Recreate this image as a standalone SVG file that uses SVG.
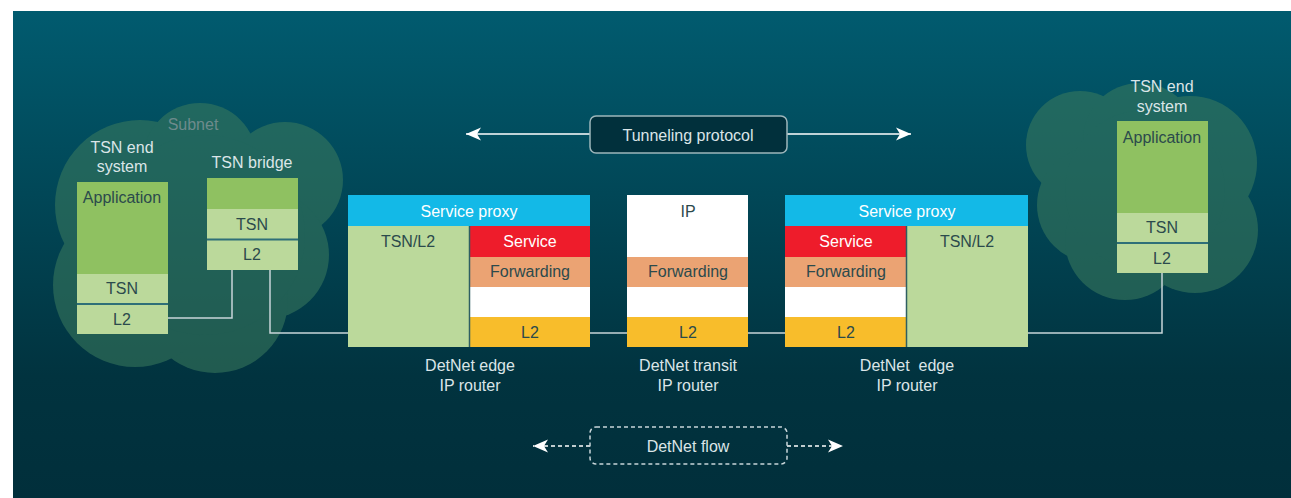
<svg xmlns="http://www.w3.org/2000/svg" width="1291" height="498" viewBox="0 0 1291 498">
<defs>
<linearGradient id="bg" x1="0" y1="0" x2="0" y2="1">
<stop offset="0" stop-color="#015b6f"/>
<stop offset="0.75" stop-color="#01333f"/>
<stop offset="1" stop-color="#012f3b"/>
</linearGradient>
<marker id="ah" viewBox="-16 -7 17 14" refX="0" refY="0" markerWidth="17" markerHeight="14" markerUnits="userSpaceOnUse" orient="auto">
<path d="M0,0 L-15,-6.5 L-11,0 L-15,6.5 Z" fill="#ffffff"/>
</marker>
<style>
text{font-family:"Liberation Sans",Arial,sans-serif;font-size:16px;text-anchor:middle}
.lt{fill:#dbe5e8}
.dk{fill:#2b4a4c}
.wt{fill:#ffffff}
.app{fill:#8fc161}
.lg{fill:#bbd99b}
.blue{fill:#13b9e7}
.red{fill:#ee1c2b}
.fwd{fill:#eba373}
.yel{fill:#f8bd2b}
.wh{fill:#ffffff}
.div{stroke:#2e6f78;stroke-width:2}
.vdiv{stroke:#2e5f62;stroke-width:1.5}
.cloud{fill:#3c7c5e;opacity:0.55}
.conn{stroke:#c8d5d9;stroke-width:1.5;fill:none}
</style>
</defs>
<rect x="0" y="0" width="1291" height="498" fill="#ffffff"/>
<rect x="13" y="11" width="1278" height="487" fill="url(#bg)"/>

<g id="cloud-left">
<g class="cloud">
<circle cx="140" cy="205" r="85"/>
<circle cx="200" cy="160" r="57"/>
<circle cx="285" cy="180" r="58"/>
<circle cx="265" cy="255" r="64"/>
<circle cx="215" cy="300" r="73"/>
<circle cx="135" cy="285" r="82"/>
<circle cx="205" cy="235" r="100"/>
</g>
<text x="193" y="130" fill="#6e8b8c" font-size="15">Subnet</text>
</g>
<g id="cloud-right" class="cloud">
<circle cx="1080" cy="145" r="54"/>
<circle cx="1095" cy="205" r="58"/>
<circle cx="1125" cy="240" r="60"/>
<circle cx="1195" cy="230" r="63"/>
<circle cx="1190" cy="163" r="67"/>
<circle cx="1140" cy="140" r="57"/>
<circle cx="1145" cy="190" r="80"/>
</g>

<g id="connectors">
<polyline class="conn" points="168,318 232,318 232,270"/>
<polyline class="conn" points="270,270 270,333 348,333"/>
<line class="conn" x1="590" y1="333" x2="627" y2="333"/>
<line class="conn" x1="748" y1="333" x2="786" y2="333"/>
<polyline class="conn" points="1028,333 1162,333 1162,273"/>
<line x1="590" y1="134" x2="466" y2="134" stroke="#ffffff" stroke-width="1.5" marker-end="url(#ah)"/>
<line x1="787" y1="134" x2="911" y2="134" stroke="#ffffff" stroke-width="1.5" marker-end="url(#ah)"/>
<line x1="590" y1="446" x2="533" y2="446" stroke="#ffffff" stroke-width="1.5" stroke-dasharray="4 3" marker-end="url(#ah)"/>
<line x1="787" y1="446" x2="843" y2="446" stroke="#ffffff" stroke-width="1.5" stroke-dasharray="4 3" marker-end="url(#ah)"/>
</g>

<g id="tsn-end-left">
<text class="lt" x="122" y="153">TSN end</text>
<text class="lt" x="122" y="172">system</text>
<rect class="app" x="77" y="182" width="91" height="92"/>
<rect class="lg" x="77" y="274" width="91" height="60"/>
<line class="div" x1="77" y1="304" x2="168" y2="304"/>
<text class="dk" x="122" y="203">Application</text>
<text class="dk" x="122" y="294">TSN</text>
<text class="dk" x="122" y="325">L2</text>
</g>

<g id="tsn-bridge">
<text class="lt" x="252" y="168">TSN bridge</text>
<rect class="app" x="207" y="178" width="91" height="31"/>
<rect class="lg" x="207" y="209" width="91" height="61"/>
<line class="div" x1="207" y1="239.5" x2="298" y2="239.5"/>
<text class="dk" x="252" y="230">TSN</text>
<text class="dk" x="252" y="260">L2</text>
</g>

<g id="edge-left">
<rect class="blue" x="348" y="195" width="242" height="31"/>
<rect class="lg" x="348" y="226" width="121" height="121"/>
<rect class="red" x="470" y="226" width="120" height="31"/>
<rect class="fwd" x="470" y="257" width="120" height="30"/>
<rect class="wh" x="470" y="287" width="120" height="30"/>
<rect class="yel" x="470" y="317" width="120" height="30"/>
<line class="vdiv" x1="469.5" y1="226" x2="469.5" y2="347"/>
<text class="wt" x="469" y="217">Service proxy</text>
<text class="dk" x="408" y="247">TSN/L2</text>
<text class="wt" x="530" y="247">Service</text>
<text class="dk" x="530" y="277">Forwarding</text>
<text class="dk" x="530" y="338">L2</text>
<text class="lt" x="470" y="371">DetNet edge</text>
<text class="lt" x="470" y="391">IP router</text>
</g>

<g id="transit">
<rect class="wh" x="627" y="195" width="121" height="62"/>
<rect class="fwd" x="627" y="257" width="121" height="30"/>
<rect class="wh" x="627" y="287" width="121" height="30"/>
<rect class="yel" x="627" y="317" width="121" height="30"/>
<text class="dk" x="688" y="217">IP</text>
<text class="dk" x="688" y="277">Forwarding</text>
<text class="dk" x="688" y="338">L2</text>
<text class="lt" x="688" y="371">DetNet transit</text>
<text class="lt" x="688" y="391">IP router</text>
</g>

<g id="edge-right">
<rect class="blue" x="785" y="195" width="243" height="31"/>
<rect class="red" x="785" y="226" width="121" height="31"/>
<rect class="fwd" x="785" y="257" width="121" height="30"/>
<rect class="wh" x="785" y="287" width="121" height="30"/>
<rect class="yel" x="785" y="317" width="121" height="30"/>
<rect class="lg" x="907" y="226" width="121" height="121"/>
<line class="vdiv" x1="906.5" y1="226" x2="906.5" y2="347"/>
<text class="wt" x="907" y="217">Service proxy</text>
<text class="wt" x="846" y="247">Service</text>
<text class="dk" x="846" y="277">Forwarding</text>
<text class="dk" x="846" y="338">L2</text>
<text class="dk" x="967" y="247">TSN/L2</text>
<text class="lt" x="907" y="371" xml:space="preserve">DetNet  edge</text>
<text class="lt" x="907" y="391">IP router</text>
</g>

<g id="tsn-end-right">
<text class="lt" x="1162" y="92">TSN end</text>
<text class="lt" x="1162" y="112">system</text>
<rect class="app" x="1117" y="121" width="91" height="92"/>
<rect class="lg" x="1117" y="213" width="91" height="60"/>
<line class="div" x1="1117" y1="243" x2="1208" y2="243"/>
<text class="dk" x="1162" y="143">Application</text>
<text class="dk" x="1162" y="233">TSN</text>
<text class="dk" x="1162" y="264">L2</text>
</g>

<g id="tunneling">
<rect x="590" y="116" width="197" height="37" rx="6" fill="#01303c" stroke="#9db6bb" stroke-width="1.5"/>
<text class="lt" x="688" y="141">Tunneling protocol</text>
</g>

<g id="detnet-flow">
<rect x="590" y="427" width="197" height="37" rx="6" fill="none" stroke="#c8d5d9" stroke-width="1.5" stroke-dasharray="4 3"/>
<text class="lt" x="688" y="452">DetNet flow</text>
</g>
</svg>
